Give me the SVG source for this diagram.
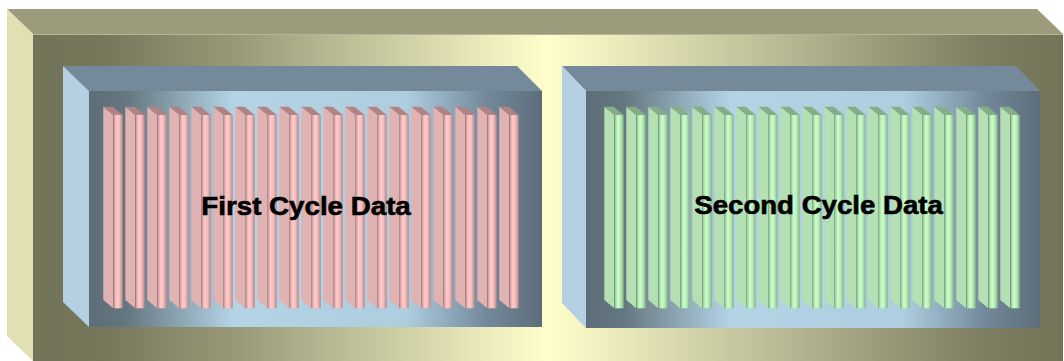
<svg xmlns="http://www.w3.org/2000/svg" width="1064" height="361" viewBox="0 0 1064 361">
  <style>
    .frame-top { fill: #9c9c7c; }
    .frame-side { fill: #e0e0b0; }
    .frame-edge { stroke: #b6b696; stroke-width: 1.2; fill: none; }
    .box-top { fill: #74899a; }
    .box-side { fill: #b4d0e2; }
    .label { font-family: "Liberation Sans", Arial, sans-serif; font-weight: bold; font-size: 26px; fill: #000; stroke: #000; stroke-width: 0.6; text-anchor: start; }
  </style>
  <defs>
    <!-- front face of the outer frame: olive edges, pale yellow centre -->
    <linearGradient id="frameFront" gradientUnits="userSpaceOnUse" x1="33" y1="0" x2="1063" y2="0">
      <stop offset="0" stop-color="#727258"/>
      <stop offset="0.07" stop-color="#77775c"/>
      <stop offset="0.2" stop-color="#9a9a7a"/>
      <stop offset="0.5" stop-color="#ffffcc"/>
      <stop offset="0.8" stop-color="#a2a282"/>
      <stop offset="0.92" stop-color="#7e7e62"/>
      <stop offset="1" stop-color="#737358"/>
    </linearGradient>
    <!-- front face of each data box: slate edges, light blue middle -->
    <linearGradient id="boxFront" x1="0" y1="0" x2="1" y2="0">
      <stop offset="0" stop-color="#5d6d79"/>
      <stop offset="0.08" stop-color="#64767f"/>
      <stop offset="0.32" stop-color="#b4d4e6"/>
      <stop offset="0.7" stop-color="#aecee0"/>
      <stop offset="0.88" stop-color="#72889a"/>
      <stop offset="1" stop-color="#5d6d79"/>
    </linearGradient>
    <linearGradient id="pinkFront" x1="0" y1="0" x2="1" y2="0">
      <stop offset="0" stop-color="#9c6e6e"/>
      <stop offset="0.14" stop-color="#dea6a6"/>
      <stop offset="0.38" stop-color="#ffcccc"/>
      <stop offset="0.66" stop-color="#f2bcbc"/>
      <stop offset="1" stop-color="#b68888"/>
    </linearGradient>
    <linearGradient id="greenFront" x1="0" y1="0" x2="1" y2="0">
      <stop offset="0" stop-color="#689468"/>
      <stop offset="0.14" stop-color="#a6d8a6"/>
      <stop offset="0.38" stop-color="#ccffcc"/>
      <stop offset="0.66" stop-color="#b8ecb8"/>
      <stop offset="1" stop-color="#86b286"/>
    </linearGradient>
    <!-- one slab: side face, top cap, front face -->
    <g id="barPink">
      <polygon points="0,106.7 10,115 10,308.3 0,300" fill="#e0b2b2"/>
      <polygon points="0,106.7 9.4,106.7 19.4,115 10,115" fill="#b08484"/>
      <rect x="10" y="115" width="9.4" height="193.3" fill="url(#pinkFront)"/>
    </g>
    <g id="barGreen">
      <polygon points="0,106.7 10,115 10,308.3 0,300" fill="#b4e0b4"/>
      <polygon points="0,106.7 9.4,106.7 19.4,115 10,115" fill="#86ae86"/>
      <rect x="10" y="115" width="9.4" height="193.3" fill="url(#greenFront)"/>
    </g>
  </defs>

  <rect width="1064" height="361" fill="#ffffff"/>

  <g id="outer-frame">
    <polygon class="frame-top" points="7,9 1037,9 1063,34 33,34"/>
    <polygon class="frame-side" points="7,9 33,34 33,361 7,336"/>
    <rect x="33" y="34" width="1030" height="327" fill="url(#frameFront)"/>
    <line class="frame-edge" x1="33" y1="34.5" x2="1063" y2="34.5"/>
  </g>

  <g id="first-cycle">
    <polygon class="box-top" points="63,66 517,66 542,91 89,91"/>
    <polygon class="box-side" points="63,66 89,91 89,327 63,302"/>
    <rect x="89" y="91" width="453" height="236" fill="url(#boxFront)"/>
    <g id="first-cycle-bars">
      <use href="#barPink" x="103.3"/>
      <use href="#barPink" x="125.3"/>
      <use href="#barPink" x="147.3"/>
      <use href="#barPink" x="169.3"/>
      <use href="#barPink" x="191.3"/>
      <use href="#barPink" x="213.3"/>
      <use href="#barPink" x="235.3"/>
      <use href="#barPink" x="257.3"/>
      <use href="#barPink" x="279.3"/>
      <use href="#barPink" x="301.3"/>
      <use href="#barPink" x="323.3"/>
      <use href="#barPink" x="345.3"/>
      <use href="#barPink" x="367.3"/>
      <use href="#barPink" x="389.3"/>
      <use href="#barPink" x="411.3"/>
      <use href="#barPink" x="433.3"/>
      <use href="#barPink" x="455.3"/>
      <use href="#barPink" x="477.3"/>
      <use href="#barPink" x="499.3"/>
    </g>
    <text class="label" x="201.3" y="215" textLength="209.5" lengthAdjust="spacingAndGlyphs">First Cycle Data</text>
  </g>

  <g id="second-cycle">
    <polygon class="box-top" points="562,66 1016,66 1040,91 586,91"/>
    <polygon class="box-side" points="562,66 586,91 586,328 562,303"/>
    <rect x="586" y="91" width="454" height="237" fill="url(#boxFront)"/>
    <g id="second-cycle-bars">
      <use href="#barGreen" x="604.3"/>
      <use href="#barGreen" x="626.3"/>
      <use href="#barGreen" x="648.3"/>
      <use href="#barGreen" x="670.3"/>
      <use href="#barGreen" x="692.3"/>
      <use href="#barGreen" x="714.3"/>
      <use href="#barGreen" x="736.3"/>
      <use href="#barGreen" x="758.3"/>
      <use href="#barGreen" x="780.3"/>
      <use href="#barGreen" x="802.3"/>
      <use href="#barGreen" x="824.3"/>
      <use href="#barGreen" x="846.3"/>
      <use href="#barGreen" x="868.3"/>
      <use href="#barGreen" x="890.3"/>
      <use href="#barGreen" x="912.3"/>
      <use href="#barGreen" x="934.3"/>
      <use href="#barGreen" x="956.3"/>
      <use href="#barGreen" x="978.3"/>
      <use href="#barGreen" x="1000.3"/>
    </g>
    <text class="label" x="694.3" y="213.5" textLength="248.5" lengthAdjust="spacingAndGlyphs">Second Cycle Data</text>
  </g>
</svg>
